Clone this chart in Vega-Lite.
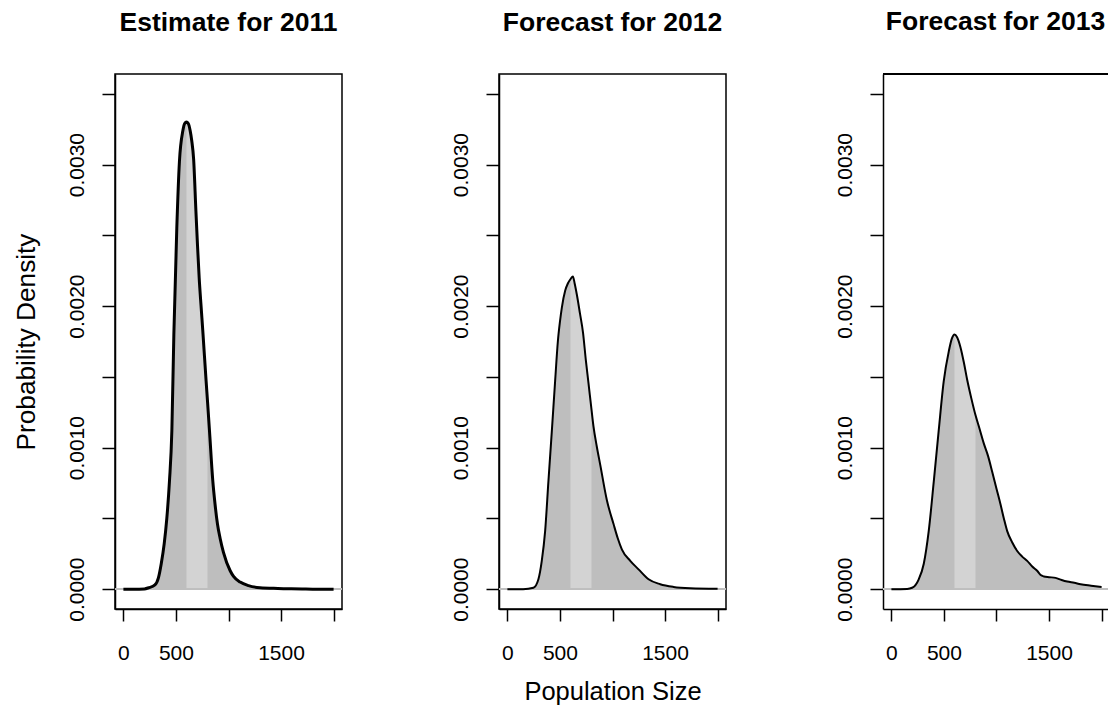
{
  "$schema": "https://vega.github.io/schema/vega-lite/v6.json",
  "background": "white",
  "padding": {"left": 12, "top": 8, "right": 0, "bottom": 0},
  "bounds": "flush",
  "spacing": 157,
  "config": {
    "font": "Liberation Sans",
    "view": {"stroke": "black", "strokeWidth": 1.5},
    "axis": {
      "grid": false, "domain": true, "domainColor": "black", "domainWidth": 1.5,
      "tickColor": "black", "tickWidth": 1.5, "labelColor": "black",
      "labelFont": "Liberation Sans", "labelFontSize": 21,
      "titleFont": "Liberation Sans", "titleFontSize": 25.5, "titleFontWeight": "normal", "titleColor": "black",
      "labelOverlap": false, "labelFlush": false
    },
    "axisX": {"tickSize": 12, "labelPadding": 21, "titlePadding": 16},
    "axisY": {"tickSize": 13, "labelAngle": 270, "labelAlign": "center", "labelBaseline": "alphabetic", "labelPadding": 19, "titlePadding": 26, "titleFontSize": 26.2},
    "title": {"font": "Liberation Sans", "fontSize": 26.5, "fontWeight": "bold", "color": "black", "anchor": "middle", "baseline": "alphabetic", "offset": 38, "frame": "group"}
  },
  "datasets": {
    "dens": [
      {"panel":1,"x":0,"d":0},{"panel":1,"x":100,"d":0},{"panel":1,"x":200,"d":0.000002},{"panel":1,"x":240,"d":0.00001},
      {"panel":1,"x":300,"d":0.00003},{"panel":1,"x":333,"d":0.00008},{"panel":1,"x":360,"d":0.00018},{"panel":1,"x":388,"d":0.00032},
      {"panel":1,"x":413,"d":0.0005},{"panel":1,"x":438,"d":0.00076},{"panel":1,"x":461,"d":0.00112},{"panel":1,"x":480,"d":0.0018},
      {"panel":1,"x":508,"d":0.00255},{"panel":1,"x":533,"d":0.00302},{"panel":1,"x":566,"d":0.00324},{"panel":1,"x":583,"d":0.00329},
      {"panel":1,"x":600,"d":0.0033},{"panel":1,"x":617,"d":0.00329},{"panel":1,"x":635,"d":0.00324},{"panel":1,"x":650,"d":0.00317},
      {"panel":1,"x":668,"d":0.00304},{"panel":1,"x":690,"d":0.00267},{"panel":1,"x":705,"d":0.00243},{"panel":1,"x":721,"d":0.0022},
      {"panel":1,"x":738,"d":0.00201},{"panel":1,"x":755,"d":0.00183},{"panel":1,"x":787,"d":0.00147},{"panel":1,"x":800,"d":0.00133},
      {"panel":1,"x":819,"d":0.00112},{"panel":1,"x":850,"d":0.00077},{"panel":1,"x":872,"d":0.0006},{"panel":1,"x":895,"d":0.00046},
      {"panel":1,"x":920,"d":0.00036},{"panel":1,"x":952,"d":0.00026},{"panel":1,"x":1016,"d":0.00013},{"panel":1,"x":1048,"d":0.00009},
      {"panel":1,"x":1111,"d":0.00005},{"panel":1,"x":1190,"d":0.000025},{"panel":1,"x":1300,"d":0.00001},{"panel":1,"x":1470,"d":0.000005},
      {"panel":1,"x":1700,"d":0.000002},{"panel":1,"x":1800,"d":0},{"panel":1,"x":2000,"d":0},

      {"panel":2,"x":0,"d":0},{"panel":2,"x":150,"d":0},{"panel":2,"x":248,"d":0.00001},{"panel":2,"x":295,"d":0.00007},
      {"panel":2,"x":327,"d":0.0002},{"panel":2,"x":359,"d":0.00041},{"panel":2,"x":390,"d":0.00076},{"panel":2,"x":423,"d":0.00112},
      {"panel":2,"x":454,"d":0.00147},{"panel":2,"x":480,"d":0.00175},{"panel":2,"x":500,"d":0.00189},{"panel":2,"x":518,"d":0.00199},
      {"panel":2,"x":550,"d":0.00211},{"panel":2,"x":575,"d":0.00216},{"panel":2,"x":600,"d":0.00219},{"panel":2,"x":623,"d":0.00221},
      {"panel":2,"x":640,"d":0.00216},{"panel":2,"x":661,"d":0.00208},{"panel":2,"x":690,"d":0.00195},{"panel":2,"x":720,"d":0.00181},
      {"panel":2,"x":746,"d":0.00162},{"panel":2,"x":771,"d":0.00146},{"panel":2,"x":800,"d":0.00127},{"panel":2,"x":819,"d":0.00115},
      {"panel":2,"x":850,"d":0.00101},{"panel":2,"x":883,"d":0.00088},{"panel":2,"x":946,"d":0.00063},{"panel":2,"x":1010,"d":0.00046},
      {"panel":2,"x":1050,"d":0.00036},{"panel":2,"x":1090,"d":0.00028},{"panel":2,"x":1169,"d":0.0002},{"panel":2,"x":1248,"d":0.00014},
      {"panel":2,"x":1343,"d":0.00007},{"panel":2,"x":1454,"d":0.000035},{"panel":2,"x":1581,"d":0.000016},{"panel":2,"x":1740,"d":0.000007},
      {"panel":2,"x":2000,"d":0.000003},

      {"panel":3,"x":0,"d":0},{"panel":3,"x":150,"d":0.000002},{"panel":3,"x":197,"d":0.00001},{"panel":3,"x":260,"d":0.00007},
      {"panel":3,"x":308,"d":0.00018},{"panel":3,"x":355,"d":0.00041},{"panel":3,"x":403,"d":0.00076},{"panel":3,"x":450,"d":0.00112},
      {"panel":3,"x":498,"d":0.00147},{"panel":3,"x":546,"d":0.00168},{"panel":3,"x":575,"d":0.00177},{"panel":3,"x":600,"d":0.0018},
      {"panel":3,"x":625,"d":0.00178},{"panel":3,"x":657,"d":0.00171},{"panel":3,"x":690,"d":0.0016},{"panel":3,"x":721,"d":0.00148},
      {"panel":3,"x":760,"d":0.00135},{"panel":3,"x":800,"d":0.00123},{"panel":3,"x":840,"d":0.00113},{"panel":3,"x":879,"d":0.00103},
      {"panel":3,"x":920,"d":0.00094},{"panel":3,"x":959,"d":0.00083},{"panel":3,"x":1000,"d":0.00071},{"panel":3,"x":1038,"d":0.0006},
      {"panel":3,"x":1070,"d":0.0005},{"panel":3,"x":1102,"d":0.00041},{"panel":3,"x":1150,"d":0.00033},{"panel":3,"x":1197,"d":0.00027},
      {"panel":3,"x":1245,"d":0.00023},{"panel":3,"x":1292,"d":0.0002},{"panel":3,"x":1340,"d":0.00016},{"panel":3,"x":1387,"d":0.00013},
      {"panel":3,"x":1420,"d":0.0001},{"panel":3,"x":1451,"d":0.00009},{"panel":3,"x":1500,"d":0.000085},{"panel":3,"x":1562,"d":0.00008},
      {"panel":3,"x":1620,"d":0.000065},{"panel":3,"x":1673,"d":0.000054},{"panel":3,"x":1740,"d":0.000045},{"panel":3,"x":1800,"d":0.000035},
      {"panel":3,"x":1900,"d":0.000025},{"panel":3,"x":2000,"d":0.000016}
    ]
  },
  "hconcat": [
    {
      "width": 227, "height": 535,
      "title": {"text": "Estimate for 2011"},
      "data": {"name": "dens"},
      "transform": [{"filter": "datum.panel == 1"}],
      "encoding": {
        "x": {"field": "x", "type": "quantitative", "scale": {"domain": [-80, 2080], "nice": false, "zero": false},
              "axis": {"title": null, "values": [0, 500, 1000, 1500, 2000], "labelExpr": "datum.value == 1000 || datum.value == 2000 ? '' : format(datum.value, 'd')"}},
        "y": {"field": "d", "type": "quantitative", "scale": {"domain": [-0.00014, 0.00364], "nice": false, "zero": false},
              "axis": {"title": "Probability Density", "values": [0, 0.0005, 0.001, 0.0015, 0.002, 0.0025, 0.003, 0.0035], "labelExpr": "round(datum.value * 10000) % 10 == 0 ? format(datum.value, '.4f') : ''"}}
      },
      "layer": [
        {"mark": {"type": "area", "color": "#bebebe", "interpolate": "monotone"}, "encoding": {"y2": {"datum": 0}}},
        {"transform": [{"filter": "datum.x >= 600 && datum.x <= 800"}], "mark": {"type": "area", "color": "#d3d3d3", "interpolate": "monotone"}, "encoding": {"y2": {"datum": 0}}},
        {"mark": {"type": "rule", "color": "#bebebe", "strokeWidth": 1}, "encoding": {"x": {"datum": -80}, "x2": {"datum": 2080}, "y": {"datum": 0}}},
        {"mark": {"type": "line", "color": "black", "strokeWidth": 3, "interpolate": "monotone"}}
      ]
    },
    {
      "width": 227, "height": 535,
      "title": {"text": "Forecast for 2012"},
      "data": {"name": "dens"},
      "transform": [{"filter": "datum.panel == 2"}],
      "encoding": {
        "x": {"field": "x", "type": "quantitative", "scale": {"domain": [-80, 2080], "nice": false, "zero": false},
              "axis": {"title": "Population Size", "values": [0, 500, 1000, 1500, 2000], "labelExpr": "datum.value == 1000 || datum.value == 2000 ? '' : format(datum.value, 'd')"}},
        "y": {"field": "d", "type": "quantitative", "scale": {"domain": [-0.00014, 0.00364], "nice": false, "zero": false},
              "axis": {"title": null, "values": [0, 0.0005, 0.001, 0.0015, 0.002, 0.0025, 0.003, 0.0035], "labelExpr": "round(datum.value * 10000) % 10 == 0 ? format(datum.value, '.4f') : ''"}}
      },
      "layer": [
        {"mark": {"type": "area", "color": "#bebebe", "interpolate": "monotone"}, "encoding": {"y2": {"datum": 0}}},
        {"transform": [{"filter": "datum.x >= 600 && datum.x <= 800"}], "mark": {"type": "area", "color": "#d3d3d3", "interpolate": "monotone"}, "encoding": {"y2": {"datum": 0}}},
        {"mark": {"type": "rule", "color": "#bebebe", "strokeWidth": 1}, "encoding": {"x": {"datum": -80}, "x2": {"datum": 2080}, "y": {"datum": 0}}},
        {"mark": {"type": "line", "color": "black", "strokeWidth": 2, "interpolate": "monotone"}}
      ]
    },
    {
      "width": 225, "height": 535,
      "view": {"stroke": null},
      "title": {"text": "Forecast for 2013"},
      "data": {"name": "dens"},
      "transform": [{"filter": "datum.panel == 3"}],
      "encoding": {
        "x": {"field": "x", "type": "quantitative", "scale": {"domain": [-80, 2061], "nice": false, "zero": false},
              "axis": {"title": null, "values": [0, 500, 1000, 1500, 2000], "labelExpr": "datum.value == 1000 || datum.value == 2000 ? '' : format(datum.value, 'd')"}},
        "y": {"field": "d", "type": "quantitative", "scale": {"domain": [-0.00014, 0.00364], "nice": false, "zero": false},
              "axis": {"title": null, "values": [0, 0.0005, 0.001, 0.0015, 0.002, 0.0025, 0.003, 0.0035], "labelExpr": "round(datum.value * 10000) % 10 == 0 ? format(datum.value, '.4f') : ''"}}
      },
      "layer": [
        {"mark": {"type": "area", "color": "#bebebe", "interpolate": "monotone"}, "encoding": {"y2": {"datum": 0}}},
        {"transform": [{"filter": "datum.x >= 600 && datum.x <= 800"}], "mark": {"type": "area", "color": "#d3d3d3", "interpolate": "monotone"}, "encoding": {"y2": {"datum": 0}}},
        {"mark": {"type": "rule", "color": "#bebebe", "strokeWidth": 1}, "encoding": {"x": {"datum": -80}, "x2": {"datum": 2061}, "y": {"datum": 0}}},
        {"mark": {"type": "rule", "color": "black", "strokeWidth": 1.5}, "encoding": {"x": {"datum": -80}, "x2": {"datum": 2061}, "y": {"datum": 0.00364}}},
        {"mark": {"type": "line", "color": "black", "strokeWidth": 2, "interpolate": "monotone"}}
      ]
    }
  ]
}
